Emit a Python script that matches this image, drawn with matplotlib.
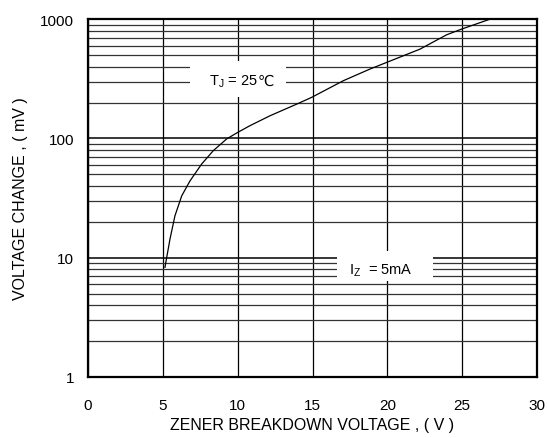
import matplotlib
matplotlib.use("Agg")
import matplotlib.pyplot as plt
from matplotlib.patches import Rectangle
from matplotlib.ticker import FixedLocator, NullFormatter

plt.rcParams["font.family"] = ["Liberation Sans", "DejaVu Sans"]

# zener breakdown voltage (V) vs voltage change (mV)
breakdown_v = [5.14, 5.48, 5.81, 6.26, 6.81, 7.59, 8.37, 9.26, 9.98, 10.82, 12.16,
               13.94, 14.94, 17.06, 18.84, 19.95, 22.18, 23.96, 24.96, 26.85]
delta_mv = [8.3, 14.4, 22.5, 33, 44, 61, 79, 99, 112, 128, 155,
            194, 221, 305, 382, 434, 561, 740, 826, 1000]

x_ticks = [0, 5, 10, 15, 20, 25, 30]
y_ticks = [1, 10, 100, 1000]
y_minor = [m * d for d in (1, 10, 100) for m in range(2, 10)]

fig = plt.figure(figsize=(5.48, 4.39), dpi=100)
ax = fig.add_axes([0.1606, 0.139, 0.8194, 0.815])

ax.set_yscale("log")
ax.set_xlim(0, 30)
ax.set_ylim(1, 1000)

ax.xaxis.set_major_locator(FixedLocator(x_ticks))
ax.yaxis.set_major_locator(FixedLocator(y_ticks))
ax.yaxis.set_minor_locator(FixedLocator(y_minor))
ax.yaxis.set_minor_formatter(NullFormatter())
ax.set_yticklabels([str(t) for t in y_ticks])
ax.set_xticklabels([str(t) for t in x_ticks])

ax.set_axisbelow(True)
ax.grid(axis="x", which="major", color="black", linewidth=0.9)
ax.grid(axis="y", which="major", color="black", linewidth=1.1)
ax.grid(axis="y", which="minor", color="#333333", linewidth=0.9)
ax.tick_params(which="both", length=0, labelsize=11, pad=15)
ax.tick_params(axis="y", pad=10)
for s in ax.spines.values():
    s.set_linewidth(1.6)

ax.plot(breakdown_v, delta_mv, color="black", linewidth=0.9)

# label boxes that blank out the grid behind them
ax.add_patch(Rectangle((0.227, 0.782), 0.214, 0.101, transform=ax.transAxes,
                       facecolor="white", edgecolor="none", zorder=2))
t1 = ax.text(0.324, 0.828, "T$_\\mathregular{J}$ = 25", transform=ax.transAxes,
             ha="center", va="center", fontsize=10.5, zorder=3)
ax.annotate("℃", xy=(1.0, 0.05), xycoords=t1, ha="left", va="bottom",
            fontsize=10.5, family=["DejaVu Sans"], zorder=3)
ax.add_patch(Rectangle((0.555, 0.268), 0.213, 0.084, transform=ax.transAxes,
                       facecolor="white", edgecolor="none", zorder=2))
ax.text(0.653, 0.30, "I$_\\mathregular{Z}$  = 5mA", transform=ax.transAxes,
        ha="center", va="center", fontsize=10.5, zorder=3)

ax.set_xlabel("ZENER BREAKDOWN VOLTAGE , ( V )", fontsize=11.5, labelpad=4)
ax.set_ylabel("VOLTAGE CHANGE , ( mV )", fontsize=11.5, labelpad=9)

fig.savefig("out.png", dpi=100)
